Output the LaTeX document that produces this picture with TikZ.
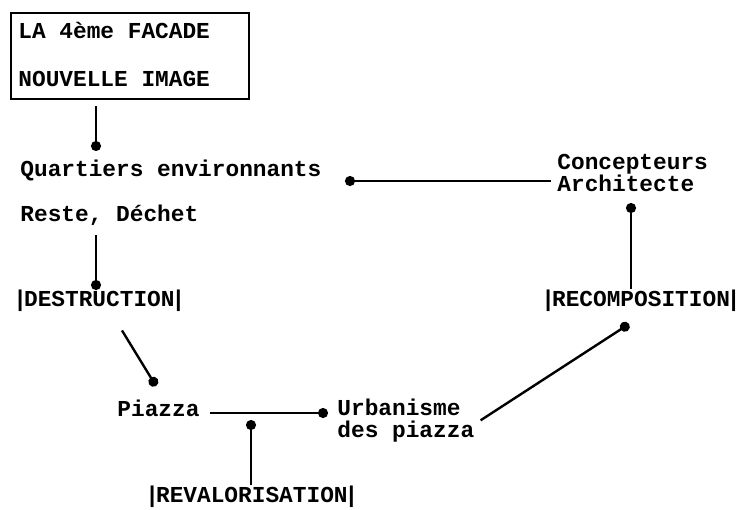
\documentclass[tikz,border=0pt]{standalone}
\usepackage{fontspec}
\setmonofont{Liberation Mono}
\usetikzlibrary{arrows.meta}

\newcommand{\barred}[1]{|\kern-1.5pt#1\kern-1.5pt|}
\newcommand{\tightlines}{\lineskiplimit=-20pt\relax}

\tikzset{
  txt/.style={font=\ttfamily\bfseries\fontsize{11.4}{10.8}\selectfont\tightlines,
    inner sep=0pt, anchor=base west, align=left},
  link/.style={line width=1.2pt, -{Circle[length=5pt]}},
}

\begin{document}
\begin{tikzpicture}[x=0.5pt,y=-0.5pt]
\useasboundingbox (0,0) rectangle (755,509);

\node[draw, line width=1pt, anchor=north west, minimum width=119pt, minimum height=43pt] (facade) at (10,12) {};
\node[txt] (facadeA) at (18,38) {LA 4ème FACADE};
\node[txt] (facadeB) at (18,86) {NOUVELLE IMAGE};

\node[txt] (quart) at (20,176) {Quartiers environnants};
\node[txt] (reste) at (20,221) {Reste, Déchet};
\node[txt] (destr) at (13,306) {\barred{DESTRUCTION}};
\node[txt] (piazza) at (117,416) {Piazza};
\node[txt] (urban) at (337,437) {Urbanisme\\des piazza};
\node[txt] (revalo) at (145,502) {\barred{REVALORISATION}};
\node[txt] (concept) at (557,191) {Concepteurs\\Architecte};
\node[txt] (recomp) at (541,306) {\barred{RECOMPOSITION}};

% dots
\coordinate (qdot) at (96,151);
\coordinate (ddot) at (96,290);
\coordinate (pdot) at (156,386);
\coordinate (udot) at (328,413);
\coordinate (vdot) at (251,420);
\coordinate (rdot) at (629,324);
\coordinate (cdot) at (631,203);
\coordinate (edot) at (345,181);

\draw[link, shorten <=3pt] (facade.south -| qdot) -- (qdot);
\draw[link, shorten <=5pt] (reste.south -| ddot) -- (ddot);
\draw[link] ([xshift=54.5pt,yshift=-9.5pt]destr.south west) -- (pdot);
\draw[link] ([xshift=5pt]piazza.east |- udot) -- (udot);
\draw[link] (revalo.north -| vdot) -- (vdot);
\draw[link] ([xshift=3pt]urban.east) -- (rdot);
\draw[link] (recomp.north -| cdot) -- (cdot);
\draw[link, shorten <=3pt] (concept.west |- edot) -- (edot);
\end{tikzpicture}
\end{document}
